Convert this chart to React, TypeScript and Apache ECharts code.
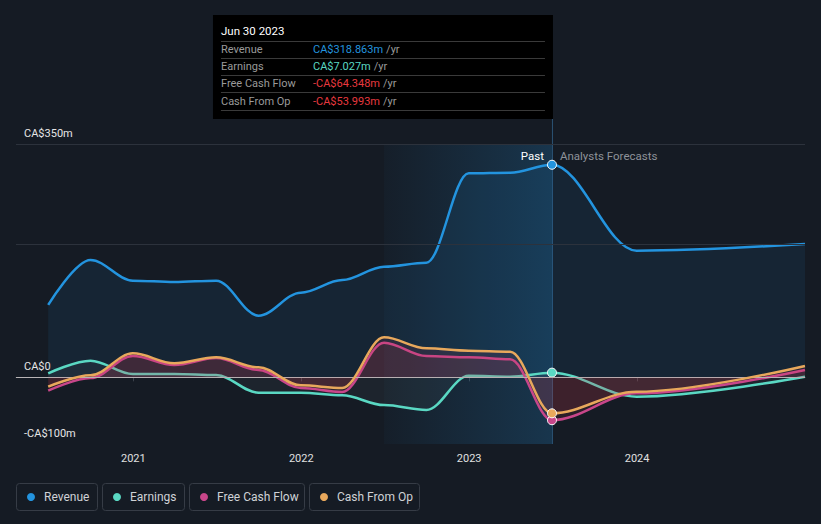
import React, { useEffect, useRef } from "react";
import * as echarts from "echarts";

const dates = [
  "2020-06-30", "2020-09-30", "2020-12-31", "2021-03-31", "2021-06-30",
  "2021-09-30", "2021-12-31", "2022-03-31", "2022-06-30", "2022-09-30",
  "2022-12-31", "2023-03-31", "2023-06-30", "2023-12-31", "2024-12-31",
];
const revenue = [108.6, 176, 145, 143, 145, 92.5, 127, 146, 166, 172, 306, 307, 318.863, 190, 200];
const earnings = [6, 25, 5, 5, 3.5, -23, -23, -27, -41.6, -49, 2.4, 1, 7.027, -29, 1];
const freeCashFlow = [-20, -1, 32, 18.5, 29, 11, -16, -22, 52, 32, 30, 27, -64.348, -24, 11];
const cashFromOp = [-14, 3, 36, 21, 30, 15, -12, -16, 60, 43.5, 40, 38.5, -53.993, -21.6, 17];

const seriesNames = ["Revenue", "Earnings", "Free Cash Flow", "Cash From Op"];
const seriesColors = ["#2394df", "#5ad8c3", "#c8468a", "#e8a85c"];
const seriesData = [revenue, earnings, freeCashFlow, cashFromOp];

const yTickLabels: Record<number, string> = { 350: "CA$350m", 0: "CA$0", [-100]: "-CA$100m" };
const gridValues = [350, 200];
const pastStart = "2022-06-30";
const hoverDate = "2023-06-30";
const hoverTitle = "Jun 30 2023";
const xMin = "2020-04-21";
const xMax = "2024-12-31";

const BG = "#151b24";

function fmt(v: number) {
  const s = "CA$" + Math.abs(v).toFixed(3) + "m";
  return v < 0 ? "-" + s : s;
}

export default function App() {
  const ref = useRef<HTMLDivElement>(null);
  useEffect(() => {
    if (!ref.current) return;
    const chart = echarts.init(ref.current, undefined, { renderer: "svg" });
    const hoverIdx = dates.indexOf(hoverDate);

    const series: any[] = seriesNames.map((name, si) => {
      const color = seriesColors[si];
      const data = dates.map((d, i) => {
        const item: any = { value: [d, seriesData[si][i]] };
        if (i === hoverIdx) {
          item.symbol = "circle";
          item.symbolSize = 9;
          item.itemStyle = { color, borderColor: "#ffffff", borderWidth: 1 };
        }
        return item;
      });
      let areaColor: any;
      if (si === 0) areaColor = "rgba(35,148,223,0.13)";
      else if (si === 1) areaColor = "rgba(120,150,150,0.12)";
      else areaColor = "rgba(210,60,80,0.16)";
      const s: any = {
        name,
        type: "line",
        data,
        smooth: 0.35,
        smoothMonotone: "x",
        symbol: "none",
        showSymbol: true,
        lineStyle: { color, width: 2.5 },
        itemStyle: { color },
        areaStyle: { color: areaColor, origin: 0 },
        z: 2 + si,
        silent: true,
      };
      if (si === 0) {
        s.markArea = {
          silent: true,
          itemStyle: {
            color: new echarts.graphic.LinearGradient(0, 0, 1, 0, [
              { offset: 0, color: "rgba(35,148,223,0.03)" },
              { offset: 1, color: "rgba(35,148,223,0.22)" },
            ]),
          },
          data: [[{ xAxis: pastStart }, { xAxis: hoverDate }]],
        };
        s.markLine = {
          silent: true,
          symbol: "none",
          label: { show: false },
          data: [
            ...gridValues.map((v) => ({ yAxis: v, lineStyle: { color: "#2c323c", width: 1, type: "solid" } })),
            { yAxis: 0, lineStyle: { color: "#b8b4b6", width: 1.2, type: "solid" } },
          ],
        };
      }
      return s;
    });

    chart.setOption({
      animation: false,
      backgroundColor: BG,
      textStyle: { fontFamily: "Roboto, sans-serif" },
      grid: { left: 16, right: 16, top: 144, bottom: 80, containLabel: false },
      xAxis: {
        type: "time",
        min: xMin,
        max: xMax,
        minInterval: 365 * 24 * 3600 * 1000,
        maxInterval: 366 * 24 * 3600 * 1000,
        axisLine: { lineStyle: { color: "#3b414b", width: 1 } },
        axisTick: { show: true, length: 4, lineStyle: { color: "#3b414b" } },
        axisLabel: {
          color: "#e0e0e0",
          fontSize: 11,
          margin: 9,
          formatter: (v: number) => String(new Date(v).getFullYear()),
        },
        splitLine: { show: false },
      },
      yAxis: {
        type: "value",
        min: -100,
        max: 350,
        interval: 50,
        axisLine: { show: false },
        axisTick: { show: false },
        splitLine: { show: false },
        axisLabel: {
          inside: true,
          margin: 8,
          color: "#e6e6e6",
          fontSize: 11,
          verticalAlign: "bottom",
          padding: [0, 0, 5, 0],
          formatter: (v: number) => yTickLabels[v] ?? "",
        },
      },
      series,
    });

    const xLine = chart.convertToPixel({ xAxisIndex: 0 }, hoverDate as any) as number;
    const yBottom = chart.convertToPixel({ yAxisIndex: 0 }, -100) as number;
    const boxW = 340;
    const boxX = xLine + 1 - boxW;
    const boxY = 15;
    const boxH = 104;
    const tx = boxX + 8;
    const vx = boxX + 100;
    const rowY = [49, 66, 83.5, 101];
    const sepY = [41.5, 58.5, 75.5, 92.5, 110.5];

    const graphic: any[] = [];
    graphic.push({
      type: "line",
      shape: { x1: xLine + 0.5, y1: boxY + boxH, x2: xLine + 0.5, y2: yBottom },
      style: { stroke: "rgba(60,130,180,0.55)", lineWidth: 1 },
      z: 1,
      silent: true,
    });
    graphic.push({ type: "rect", shape: { x: boxX, y: boxY, width: boxW, height: boxH }, style: { fill: "#000000" }, z: 100 });
    graphic.push({
      type: "text", x: tx, y: 31, z: 101,
      style: { text: hoverTitle, fill: "#ffffff", fontSize: 11.5, fontFamily: "Roboto, sans-serif", verticalAlign: "middle" },
    });
    sepY.forEach((y) => {
      graphic.push({
        type: "line", z: 101,
        shape: { x1: tx, y1: y, x2: boxX + boxW - 8, y2: y },
        style: { stroke: "#3a3a3a", lineWidth: 1 },
      });
    });
    seriesNames.forEach((name, si) => {
      const v = seriesData[si][hoverIdx];
      const vc = v < 0 ? "#e8393f" : seriesColors[si];
      graphic.push({
        type: "text", x: tx, y: rowY[si], z: 101,
        style: { text: name, fill: "#9a9a9a", fontSize: 11, fontFamily: "Roboto, sans-serif", verticalAlign: "middle" },
      });
      graphic.push({
        type: "text", x: vx, y: rowY[si], z: 101,
        style: {
          text: "{v|" + fmt(v) + "} {u|/yr}",
          verticalAlign: "middle",
          fontFamily: "Roboto, sans-serif",
          rich: {
            v: { fill: vc, fontSize: 11, fontFamily: "Roboto, sans-serif" },
            u: { fill: "#9a9a9a", fontSize: 11, fontFamily: "Roboto, sans-serif" },
          },
        },
      });
    });
    graphic.push({
      type: "text", x: xLine - 8, y: 156, z: 50,
      style: { text: "Past", fill: "#ffffff", fontSize: 11.5, fontFamily: "Roboto, sans-serif", align: "right", verticalAlign: "middle" },
    });
    graphic.push({
      type: "text", x: xLine + 8, y: 156, z: 50,
      style: { text: "Analysts Forecasts", fill: "#8e9299", fontSize: 11.5, fontFamily: "Roboto, sans-serif", align: "left", verticalAlign: "middle" },
    });

    // legend boxes
    const legendBoxes = [
      { x: 16, w: 81 },
      { x: 102, w: 82 },
      { x: 189, w: 115 },
      { x: 309, w: 110 },
    ];
    seriesNames.forEach((name, si) => {
      const b = legendBoxes[si];
      graphic.push({
        type: "rect", z: 10,
        shape: { x: b.x + 0.5, y: 483.5, width: b.w, height: 27, r: 3 },
        style: { fill: "none", stroke: "#363c46", lineWidth: 1 },
      });
      graphic.push({
        type: "circle", z: 11,
        shape: { cx: b.x + 15, cy: 497, r: 4 },
        style: { fill: seriesColors[si] },
      });
      graphic.push({
        type: "text", x: b.x + 28, y: 497, z: 11,
        style: { text: name, fill: "#cfd2d6", fontSize: 12, fontFamily: "Roboto, sans-serif", verticalAlign: "middle" },
      });
    });

    chart.setOption({ graphic });

    return () => chart.dispose();
  }, []);
  return <div ref={ref} style={{ width: 821, height: 524, position: "absolute", left: 0, top: 0 }} />;
}
